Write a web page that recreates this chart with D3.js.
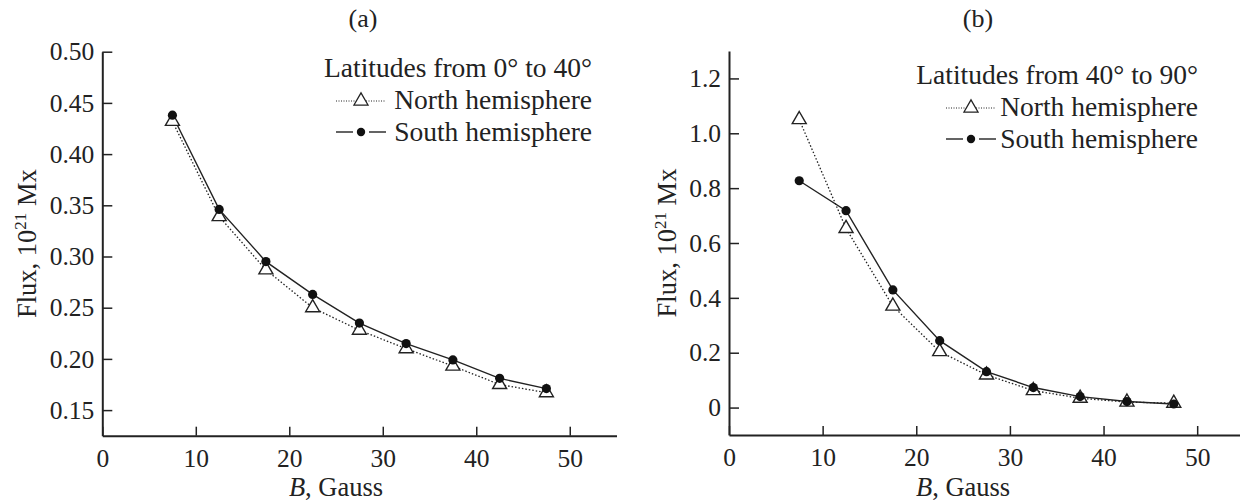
<!DOCTYPE html>
<html>
<head>
	<meta charset="utf-8">
	<title></title>
	<style type="text/css">
		body {
			margin: 0;
			background: #fff;
		}
		svg text {
			font-family: "Liberation Serif", "Times New Roman", serif;
			fill: #222;
		}
		.axis path, .axis line {
			stroke: #222;
		}
	</style>
</head>
<body>
	<svg class="viz" width="1240" height="501"></svg>

	<script src="https://cdn.jsdelivr.net/npm/d3@7/dist/d3.min.js" charset="utf-8"></script>
	<script type="text/javascript">

		// data
		var bValues = [7.5, 12.5, 17.5, 22.5, 27.5, 32.5, 37.5, 42.5, 47.5];
		var northLow = [0.432, 0.339, 0.287, 0.250, 0.228, 0.210, 0.193, 0.175, 0.167];
		var southLow = [0.438, 0.346, 0.295, 0.263, 0.235, 0.215, 0.199, 0.181, 0.171];
		var northHigh = [1.05, 0.653, 0.370, 0.204, 0.119, 0.062, 0.034, 0.020, 0.016];
		var southHigh = [0.827, 0.718, 0.429, 0.244, 0.131, 0.073, 0.040, 0.022, 0.013];
		var xTicks = [0, 10, 20, 30, 40, 50];
		var yTicksLow = [0.15, 0.20, 0.25, 0.30, 0.35, 0.40, 0.45, 0.50];
		var yTicksHigh = [0, 0.2, 0.4, 0.6, 0.8, 1.0, 1.2];
		var seriesNames = ['North hemisphere', 'South hemisphere'];

		var canvas = d3.select('.viz');

		var panels = [
			{
				label: '(a)', legendTitle: 'Latitudes from 0\u00b0 to 40\u00b0',
				north: northLow, south: southLow,
				yDomain: [0.125, 0.5], yTicks: yTicksLow, yFormat: d3.format('.2f'),
				left: 102.3, right: 616.5, top: 51.7, bottom: 435.7,
				labelX: 363, titleX: 36, legendRight: 592, legendTop: 77,
				symX: 336
			},
			{
				label: '(b)', legendTitle: 'Latitudes from 40\u00b0 to 90\u00b0',
				north: northHigh, south: southHigh,
				yDomain: [-0.1, 1.3], yTicks: yTicksHigh,
				yFormat: function(d) { return d === 0 ? '0' : d3.format('.1f')(d); },
				left: 729, right: 1244, top: 51, bottom: 435,
				labelX: 978, titleX: 676, legendRight: 1198, legendTop: 84,
				symX: 946
			}
		];

		panels.forEach(function(p) {
			var g = canvas.append('g');
			var x = d3.scaleLinear().domain([0, 55]).range([p.left, p.right]);
			var y = d3.scaleLinear().domain(p.yDomain).range([p.bottom, p.top]);

			// axes, ticks pointing inward
			g.append('g')
				.attr('class', 'axis')
				.attr('transform', 'translate(0,' + p.bottom + ')')
				.call(d3.axisBottom(x).tickValues(xTicks).tickSize(-9).tickSizeOuter(0).tickPadding(13))
				.call(function(a) {
					a.select('.domain').attr('stroke-width', 2);
					a.selectAll('.tick line').attr('stroke-width', 1.5);
					a.selectAll('.tick text').attr('font-size', 25.5).attr('fill', '#222')
						.attr('font-family', '"Liberation Serif", serif');
				});

			g.append('g')
				.attr('class', 'axis')
				.attr('transform', 'translate(' + p.left + ',0)')
				.call(d3.axisLeft(y).tickValues(p.yTicks).tickFormat(p.yFormat).tickSize(-10).tickSizeOuter(0).tickPadding(8))
				.call(function(a) {
					a.select('.domain').attr('stroke-width', 2);
					a.selectAll('.tick line').attr('stroke-width', 1.5);
					a.selectAll('.tick text').attr('font-size', 25.5).attr('fill', '#222')
						.attr('font-family', '"Liberation Serif", serif');
				});

			// panel label
			g.append('text')
				.attr('x', p.labelX).attr('y', 27)
				.attr('text-anchor', 'middle')
				.attr('font-size', 26)
				.text(p.label);

			// x title
			var xt = g.append('text')
				.attr('x', x(25)).attr('y', 496)
				.attr('text-anchor', 'middle')
				.attr('font-size', 26.5);
			xt.append('tspan').attr('font-style', 'italic').text('B');
			xt.append('tspan').text(', Gauss');

			// y title
			var yt = g.append('text')
				.attr('transform', 'translate(' + p.titleX + ',' + ((p.top + p.bottom) / 2) + ') rotate(-90)')
				.attr('text-anchor', 'middle')
				.attr('font-size', 26.5);
			yt.append('tspan').text('Flux, 10');
			yt.append('tspan').attr('font-size', 17).attr('dy', -10).text('21');
			yt.append('tspan').attr('dy', 10).text(' Mx');

			var line = d3.line()
				.x(function(d, i) { return x(bValues[i]); })
				.y(function(d) { return y(d); });

			// north: dotted line with open triangles
			g.append('path')
				.datum(p.north)
				.attr('d', line)
				.attr('fill', 'none')
				.attr('stroke', '#222')
				.attr('stroke-width', 1.3)
				.attr('stroke-dasharray', '1.5,2');

			// south: solid line with filled dots
			g.append('path')
				.datum(p.south)
				.attr('d', line)
				.attr('fill', 'none')
				.attr('stroke', '#222')
				.attr('stroke-width', 1.4);

			var tri = d3.symbol().type(d3.symbolTriangle).size(85);

			g.selectAll('.tri').data(p.north)
				.enter().append('path')
					.attr('class', 'tri')
					.attr('d', tri)
					.attr('transform', function(d, i) {
						return 'translate(' + x(bValues[i]) + ',' + y(d) + ')';
					})
					.attr('fill', '#fff')
					.attr('stroke', '#222')
					.attr('stroke-width', 1.4);

			g.selectAll('.dot').data(p.south)
				.enter().append('circle')
					.attr('class', 'dot')
					.attr('cx', function(d, i) { return x(bValues[i]); })
					.attr('cy', function(d) { return y(d); })
					.attr('r', 4.6)
					.attr('fill', '#111');

			// legend
			var lg = g.append('g');
			lg.append('text')
				.attr('x', p.legendRight).attr('y', p.legendTop)
				.attr('text-anchor', 'end')
				.attr('font-size', 27.5)
				.text(p.legendTitle);

			seriesNames.forEach(function(name, i) {
				var base = p.legendTop + 32 * (i + 1);
				var cy = base - 8;
				lg.append('text')
					.attr('x', p.legendRight).attr('y', base)
					.attr('text-anchor', 'end')
					.attr('font-size', 27.5)
					.text(name);
				var cx = p.symX + 25;
				if (i === 0) {
					lg.append('line')
						.attr('x1', p.symX).attr('x2', p.symX + 50)
						.attr('y1', cy).attr('y2', cy)
						.attr('stroke', '#222').attr('stroke-width', 1)
						.attr('stroke-dasharray', '1,1.5');
					lg.append('path')
						.attr('d', tri)
						.attr('transform', 'translate(' + cx + ',' + cy + ')')
						.attr('fill', '#fff')
						.attr('stroke', '#222')
						.attr('stroke-width', 1.3);
				} else {
					[[p.symX, cx - 8], [cx + 8, p.symX + 50]].forEach(function(s) {
						lg.append('line')
							.attr('x1', s[0]).attr('x2', s[1])
							.attr('y1', cy - 1).attr('y2', cy - 1)
							.attr('stroke', '#222').attr('stroke-width', 1.4);
					});
					lg.append('circle')
						.attr('cx', cx).attr('cy', cy - 1)
						.attr('r', 4.2)
						.attr('fill', '#111');
				}
			});
		});

	</script>
</body>
</html>
